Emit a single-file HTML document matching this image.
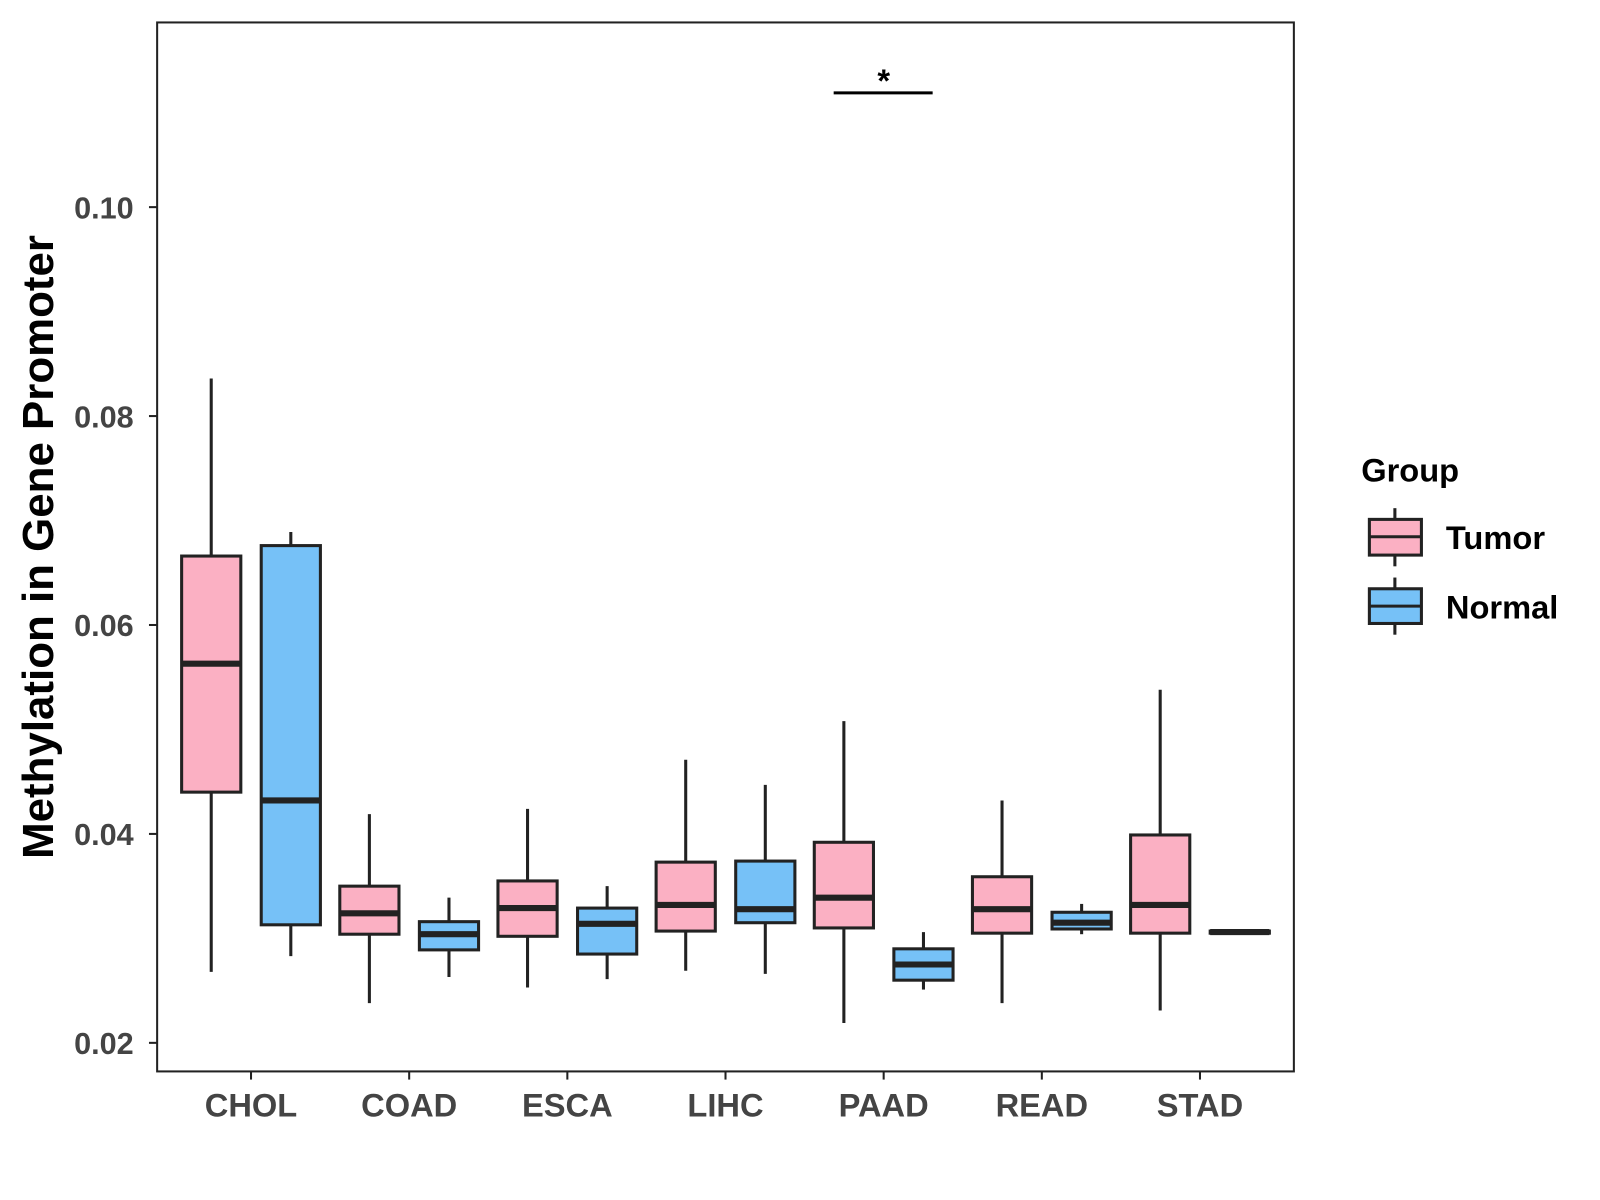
<!DOCTYPE html>
<html><head><meta charset="utf-8"><style>
html,body{margin:0;padding:0;background:#fff;}
svg{display:block;font-family:"Liberation Sans",Arial,sans-serif;}
</style></head><body>
<svg id="chart" width="1600" height="1200" viewBox="0 0 1600 1200">
<rect x="0" y="0" width="1600" height="1200" fill="#fff"/>
<g transform="scale(1.0204)">
<rect x="154" y="22" width="1114" height="1028" fill="none" stroke="#222" stroke-width="2"/>
<g id="marks"></g>
<g id="axes"></g>
<text x="52" y="536" transform="rotate(-90 52 536)" text-anchor="middle" font-size="43" font-weight="bold" fill="#000">Methylation in Gene Promoter</text>
<line x1="817" y1="91" x2="914" y2="91" stroke="#000" stroke-width="3"/>
<text x="866" y="90" text-anchor="middle" font-size="32" font-weight="bold" fill="#000">*</text>
<g>
<text x="1334" y="472" font-size="32" font-weight="bold" fill="#000">Group</text>
<g>
<line x1="1367" y1="498" x2="1367" y2="555" stroke="#222" stroke-width="3"/>
<rect x="1342" y="509" width="51" height="35" fill="#FBB0C3" stroke="#222" stroke-width="3"/>
<line x1="1342" y1="526" x2="1393" y2="526" stroke="#222" stroke-width="3"/>
<text x="1417" y="538" font-size="32" font-weight="bold" fill="#000">Tumor</text>
</g>
<g>
<line x1="1367" y1="566" x2="1367" y2="622" stroke="#222" stroke-width="3"/>
<rect x="1342" y="577" width="51" height="34" fill="#76C1F7" stroke="#222" stroke-width="3"/>
<line x1="1342" y1="594" x2="1393" y2="594" stroke="#222" stroke-width="3"/>
<text x="1417" y="606" font-size="32" font-weight="bold" fill="#000">Normal</text>
</g>
</g>
</g>
</svg>
<script>
const categories = ["CHOL","COAD","ESCA","LIHC","PAAD","READ","STAD"];
// [low, q1, median, q3, high]
const tumorStats = [
 [0.0268,0.0440,0.0563,0.0666,0.0836],
 [0.0238,0.0304,0.0324,0.0350,0.0419],
 [0.0253,0.0302,0.0329,0.0355,0.0424],
 [0.0269,0.0307,0.0332,0.0373,0.0471],
 [0.0219,0.0310,0.0339,0.0392,0.0508],
 [0.0238,0.0305,0.0328,0.0359,0.0432],
 [0.0231,0.0305,0.0332,0.0399,0.0538]
];
const normalStats = [
 [0.0283,0.0313,0.0432,0.0676,0.0689],
 [0.0263,0.0289,0.0304,0.0316,0.0339],
 [0.0261,0.0285,0.0314,0.0329,0.0350],
 [0.0266,0.0315,0.0328,0.0374,0.0447],
 [0.0251,0.0260,0.0275,0.0290,0.0306],
 [0.0304,0.0309,0.0315,0.0325,0.0333],
 [0.0305,0.0305,0.0306,0.0307,0.0307]
];
const yTicks = [0.02,0.04,0.06,0.08,0.10];
const yTickLabels = ["0.02","0.04","0.06","0.08","0.10"];

const NS="http://www.w3.org/2000/svg";
function y(v){return 1022-(v-0.02)/0.02*204.75;}
function x(i){return 246+i*155;}
function mk(tag,attrs,parent){const e=document.createElementNS(NS,tag);for(const k in attrs)e.setAttribute(k,attrs[k]);parent.appendChild(e);return e;}
const marks=document.getElementById('marks');
const axes=document.getElementById('axes');
function drawBox(cx,s,fill,name){
 const g=mk('g',{},marks);
 
 
 mk('line',{x1:cx,x2:cx,y1:y(s[4]),y2:y(s[0]),stroke:'#222','stroke-width':3},g);
 mk('rect',{x:cx-29,y:y(s[3]),width:58,height:Math.max(1,y(s[1])-y(s[3])),fill:fill,stroke:'#222','stroke-width':3},g);
 mk('line',{x1:cx-29,x2:cx+29,y1:y(s[2]),y2:y(s[2]),stroke:'#222','stroke-width':6},g);
}
categories.forEach((c,i)=>{
 drawBox(x(i)-39,tumorStats[i],'#FBB0C3','box-tumor-'+c.toLowerCase());
 drawBox(x(i)+39,normalStats[i],'#76C1F7','box-normal-'+c.toLowerCase());
 mk('line',{x1:x(i),x2:x(i),y1:1050,y2:1058,stroke:'#222','stroke-width':2},axes);
 const t=mk('text',{x:x(i),y:1094,'text-anchor':'middle','font-size':32,'font-weight':'bold',fill:'#444'},axes);
 t.textContent=c;
 
 
});
yTicks.forEach((v,i)=>{
 mk('line',{x1:146,x2:154,y1:y(v),y2:y(v),stroke:'#222','stroke-width':2},axes);
 const t=mk('text',{x:131,y:y(v)+11,'text-anchor':'end','font-size':30,'font-weight':'bold',fill:'#444'},axes);
 t.textContent=yTickLabels[i];
 
 
});
</script>
</body></html>
